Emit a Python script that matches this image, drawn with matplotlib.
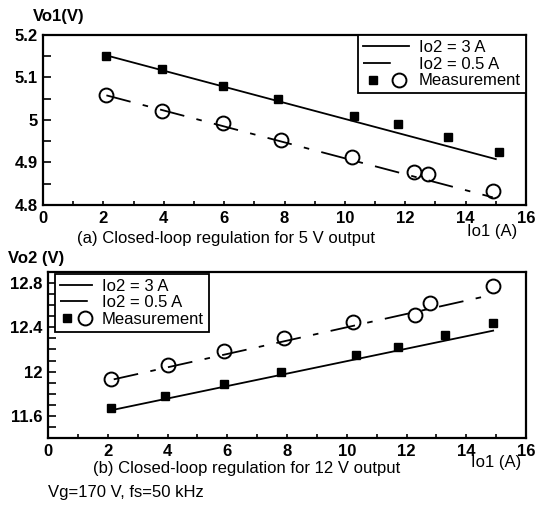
import numpy as np
import matplotlib
matplotlib.use("Agg")
import matplotlib.pyplot as plt
from matplotlib.lines import Line2D
from matplotlib.legend_handler import HandlerTuple
from matplotlib.ticker import MultipleLocator

plt.rcParams["font.family"] = ["Liberation Sans", "DejaVu Sans"]
plt.rcParams["lines.scale_dashes"] = False

# (a) 5 V output, Vo1 vs Io1
io1_a_sq = [2.1, 3.95, 5.95, 7.8, 10.3, 11.75, 13.4, 15.1]
vo1_sq = [5.15, 5.12, 5.08, 5.05, 5.01, 4.99, 4.96, 4.925]
io1_a_ci = [2.1, 3.95, 5.95, 7.9, 10.25, 12.3, 12.75, 14.9]
vo1_ci = [5.058, 5.022, 4.992, 4.952, 4.912, 4.878, 4.872, 4.832]
fit_a_x3 = [2.1, 15.0]
fit_a_y3 = [5.152, 4.908]
fit_a_x05 = [2.1, 14.9]
fit_a_y05 = [5.058, 4.818]

# (b) 12 V output, Vo2 vs Io1
io1_b_sq = [2.1, 3.9, 5.9, 7.8, 10.3, 11.7, 13.3, 14.9]
vo2_sq = [11.67, 11.78, 11.89, 12.0, 12.15, 12.22, 12.33, 12.44]
io1_b_ci = [2.1, 4.0, 5.9, 7.9, 10.2, 12.3, 12.8, 14.9]
vo2_ci = [11.93, 12.06, 12.19, 12.3, 12.45, 12.51, 12.62, 12.77]
fit_b_x3 = [2.1, 14.9]
fit_b_y3 = [11.65, 12.37]
fit_b_x05 = [2.2, 14.8]
fit_b_y05 = [11.93, 12.69]

dashdot = (0, (18, 9, 4, 9))
fs = 12


def style_axes(ax, ylim, ymajor, yminor):
    ax.set_xlim(0, 16)
    ax.set_ylim(*ylim)
    ax.xaxis.set_major_locator(MultipleLocator(2))
    ax.xaxis.set_minor_locator(MultipleLocator(1))
    ax.yaxis.set_major_locator(MultipleLocator(ymajor))
    ax.yaxis.set_minor_locator(MultipleLocator(yminor))
    ax.tick_params(axis="both", which="both", direction="in", top=False, right=False,
                   width=1.2, labelsize=fs)
    ax.tick_params(axis="y", which="both", length=6, pad=4)
    ax.tick_params(axis="x", which="both", length=3, pad=4)
    for s in ax.spines.values():
        s.set_linewidth(1.6)
    ax.yaxis.set_major_formatter(plt.FuncFormatter(lambda v, p: "{:g}".format(round(v, 2))))


def bold_ticks(ax):
    for lab in ax.get_xticklabels() + ax.get_yticklabels():
        lab.set_fontweight("bold")


def draw(ax, xs, ys, xc, yc, fx3, fy3, fx05, fy05):
    ax.plot(fx3, fy3, color="black", lw=1.3)
    ax.plot(fx05, fy05, color="black", lw=1.3, linestyle=dashdot)
    ax.plot(xs, ys, "s", color="black", markersize=6, linestyle="none")
    ax.plot(xc, yc, "o", markerfacecolor="none", markeredgecolor="black",
            markeredgewidth=1.4, markersize=10, linestyle="none")


def add_legend(ax, hl, **kw):
    h1 = Line2D([], [], color="black", lw=1.3)
    h2 = Line2D([], [], color="black", lw=1.3, linestyle=(0, (20, 40)))
    hs = Line2D([], [], marker="s", color="black", markersize=6, linestyle="none")
    hc = Line2D([], [], marker="o", markerfacecolor="none", markeredgecolor="black",
                markeredgewidth=1.4, markersize=10, linestyle="none")
    leg = ax.legend([h1, h2, (hs, hc)], ["Io2 = 3 A", "Io2 = 0.5 A", "Measurement"],
                    handler_map={tuple: HandlerTuple(ndivide=None, pad=0.3)},
                    fontsize=fs, handlelength=hl, handletextpad=0.6, labelspacing=0.1,
                    fancybox=False, edgecolor="black", framealpha=1,
                    borderpad=0.3, **kw)
    leg.get_frame().set_linewidth(1.3)
    return leg


fig = plt.figure(figsize=(5.35, 5.07), dpi=100)

ax1 = fig.add_axes([43 / 535, 1 - 205 / 507, 483 / 535, 170 / 507])
draw(ax1, io1_a_sq, vo1_sq, io1_a_ci, vo1_ci, fit_a_x3, fit_a_y3, fit_a_x05, fit_a_y05)
style_axes(ax1, (4.8, 5.2), 0.1, 0.05)
add_legend(ax1, 2.75, loc="upper right", borderaxespad=0)
ax1.text(0.93, -0.155, "Io1 (A)", transform=ax1.transAxes, ha="center", va="center",
         fontsize=fs)

ax2 = fig.add_axes([48 / 535, 1 - 438 / 507, 478 / 535, 166 / 507])
draw(ax2, io1_b_sq, vo2_sq, io1_b_ci, vo2_ci, fit_b_x3, fit_b_y3, fit_b_x05, fit_b_y05)
style_axes(ax2, (11.4, 12.9), 0.4, 0.1)
ax2.yaxis.set_major_locator(plt.FixedLocator([11.6, 12.0, 12.4, 12.8]))
add_legend(ax2, 1.9, loc="upper left", bbox_to_anchor=(0.015, 0.99), borderaxespad=0)
ax2.text(0.937, -0.147, "Io1 (A)", transform=ax2.transAxes, ha="center", va="center",
         fontsize=fs)

fig.canvas.draw()
bold_ticks(ax1)
bold_ticks(ax2)

fig.text(33 / 535, 1 - 17 / 507, "Vo1(V)", ha="left", va="center", fontsize=fs,
         fontweight="bold")
fig.text(8 / 535, 1 - 258 / 507, "Vo2 (V)", ha="left", va="center", fontsize=fs,
         fontweight="bold")
fig.text(226 / 535, 1 - 239 / 507, "(a) Closed-loop regulation for 5 V output",
         ha="center", va="center", fontsize=fs)
fig.text(247 / 535, 1 - 469 / 507, "(b) Closed-loop regulation for 12 V output",
         ha="center", va="center", fontsize=fs)
fig.text(48 / 535, 1 - 492 / 507, "Vg=170 V, fs=50 kHz", ha="left", va="center",
         fontsize=fs)

fig.savefig("out.png", dpi=100)
